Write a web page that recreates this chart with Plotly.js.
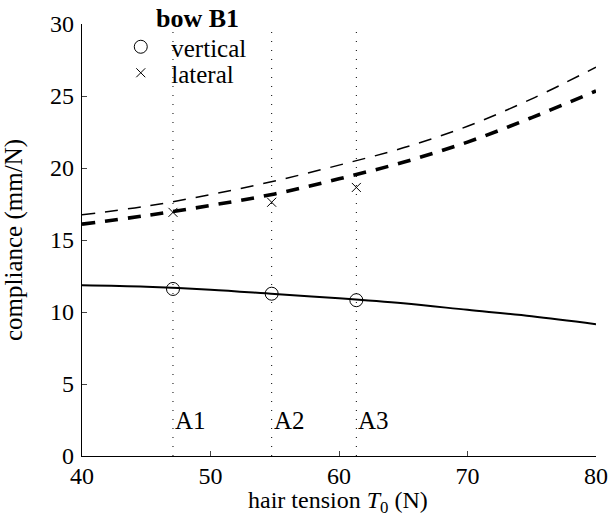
<!DOCTYPE html>
<html>
<head>
<meta charset="utf-8">
<script src="https://cdn.plot.ly/plotly-3.0.1.min.js"></script>
<style>html,body{margin:0;padding:0;background:#fff;} #chart{width:609px;height:516px;}</style>
</head>
<body>
<div id="chart"></div>
<script>
// Model curves
const curveT = [40, 45, 50, 55, 60, 65, 70, 75, 80];
const verticalModel = [11.85, 11.75, 11.55, 11.25, 10.95, 10.6, 10.15, 9.7, 9.15];
const lateralModelThin = [16.75, 17.35, 18.15, 19.1, 20.2, 21.4, 22.9, 24.8, 27.0];
const lateralModelThick = [16.1, 16.7, 17.4, 18.2, 19.25, 20.4, 21.8, 23.5, 25.35];

// Measurements
const measT = [47.08, 54.76, 61.35];
const verticalMeas = [11.6, 11.27, 10.82];
const lateralMeas = [16.92, 17.62, 18.65];
const measLabels = ['A1', 'A2', 'A3'];
const legendTitle = 'bow B1';
const xTitle = 'hair tension <i>T</i><sub>0</sub> (N)';
const yTitle = 'compliance (mm/N)';

const yRange = [0, 30];
const xRange = [40, 80];
const FONT = 'Liberation Serif, Times New Roman, serif';
const FS = 25;
const TFS = 24;

const traces = [];
measT.forEach((t) => {
  traces.push({x: [t, t], y: yRange, mode: 'lines', showlegend: false, hoverinfo: 'skip',
    line: {color: '#000', width: 1, dash: '1px,8px'}});
});
traces.push({x: curveT, y: verticalModel, mode: 'lines', showlegend: false,
  line: {color: '#000', width: 2, shape: 'spline'}});
traces.push({x: curveT, y: lateralModelThin, mode: 'lines', showlegend: false,
  line: {color: '#000', width: 1.5, dash: '13px,10px', shape: 'spline'}});
traces.push({x: curveT, y: lateralModelThick, mode: 'lines', showlegend: false,
  line: {color: '#000', width: 3.6, dash: '13px,10px', shape: 'spline'}});
traces.push({x: measT, y: verticalMeas, mode: 'markers', name: 'vertical', legend: 'legend',
  marker: {symbol: 'circle-open', size: 13, color: '#000', line: {width: 1}}});
traces.push({x: measT, y: lateralMeas, mode: 'markers', name: 'lateral', legend: 'legend2',
  marker: {symbol: 'x-thin-open', size: 9, color: '#000', line: {width: 1}}});

const annotations = measT.map((t, i) => ({
  x: t, y: 2.5, xref: 'x', yref: 'y', text: measLabels[i], showarrow: false,
  xanchor: 'left', yanchor: 'middle', font: {size: FS, family: FONT, color: '#000'}
}));
annotations.push({
  x: (197 - 82) / 514, y: 1 - (18 - 24) / 432, xref: 'paper', yref: 'paper',
  text: '<b>' + legendTitle + '</b>', showarrow: false,
  xanchor: 'center', yanchor: 'middle', font: {size: 26, family: FONT, color: '#000'}
});
annotations.push({
  x: (338 - 82) / 514, y: 1 - (502 - 24) / 432, xref: 'paper', yref: 'paper',
  text: xTitle, showarrow: false,
  xanchor: 'center', yanchor: 'middle', font: {size: TFS, family: FONT, color: '#000'}
});

const legendCommon = {
  xanchor: 'left', yanchor: 'middle', bgcolor: 'rgba(0,0,0,0)', borderwidth: 0,
  font: {size: FS, family: FONT, color: '#000'}, itemwidth: 51
};

const layout = {
  width: 609, height: 516,
  margin: {l: 82, r: 13, t: 24, b: 60},
  paper_bgcolor: '#fff', plot_bgcolor: '#fff',
  font: {family: FONT, size: FS, color: '#000'},
  xaxis: {
    range: xRange, tickvals: [40, 50, 60, 70, 80], ticks: 'inside', ticklen: 5, tickwidth: 1,
    showline: true, linecolor: '#000', linewidth: 1.2, showgrid: false, zeroline: false,
    tickfont: {size: TFS, family: FONT}, ticklabelstandoff: -2
  },
  yaxis: {
    range: yRange, tickvals: [0, 5, 10, 15, 20, 25, 30], ticks: 'inside', ticklen: 5, tickwidth: 1,
    showline: true, linecolor: '#000', linewidth: 1.2, showgrid: false, zeroline: false,
    tickfont: {size: TFS, family: FONT}, ticklabelstandoff: 2,
    title: {text: yTitle, font: {size: FS, family: FONT}}
  },
  legend: Object.assign({x: 0.055, y: 1 - (47 - 24) / 432}, legendCommon),
  legend2: Object.assign({x: 0.055, y: 1 - (73 - 24) / 432}, legendCommon),
  annotations: annotations,
  showlegend: true
};

Plotly.newPlot('chart', traces, layout, {displayModeBar: false, staticPlot: true});
</script>
</body>
</html>
